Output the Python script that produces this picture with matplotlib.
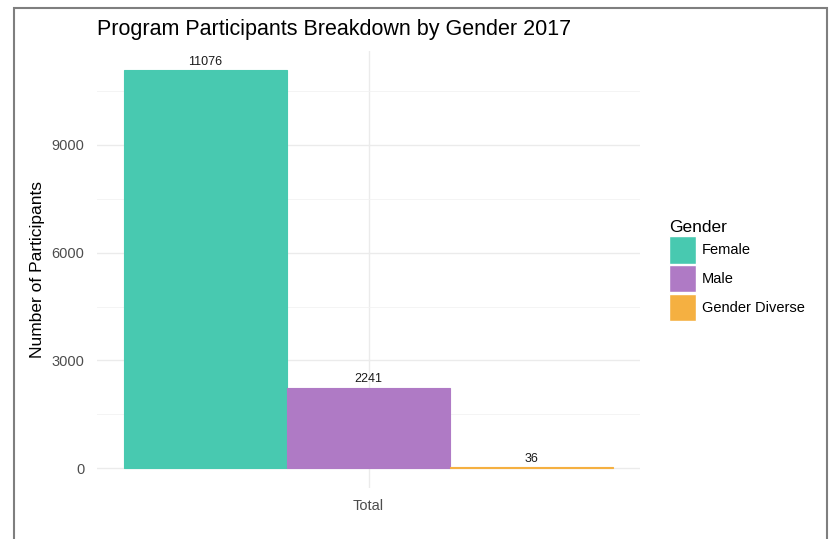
import matplotlib.pyplot as plt
from matplotlib.patches import Patch, Rectangle

genders = ["Female", "Male", "Gender Diverse"]
participants = [11076, 2241, 36]
colors = ["#48C9B0", "#AF7AC5", "#F5B041"]
category = "Total"

plt.rcParams["font.family"] = ["Liberation Sans", "DejaVu Sans"]

fig = plt.figure(figsize=(8.32, 5.39), dpi=100)
W, H = 832, 539
ax = fig.add_axes([97 / W, 1 - 488 / H, (640 - 97) / W, (488 - 50.5) / H])

# border round the whole image, like the screenshot
fig.patches.append(Rectangle((14 / W, -0.01), (827 - 14) / W, 1.01 - 8 / H,
                             transform=fig.transFigure, fill=False,
                             edgecolor="#7f7f7f", linewidth=1.5))

# dodged bars, width 0.9 split in three
w = 0.9 / len(genders)
for i, (g, v, c) in enumerate(zip(genders, participants, colors)):
    x = 1 - 0.45 + w / 2 + i * w
    ax.bar(x, v, width=w, color=c, edgecolor=c, linewidth=0.8, zorder=2)
    ax.text(x, v + 60, str(v), ha="center", va="bottom", fontsize=9, color="#1a1a1a")

ax.set_xlim(0.5, 1.5)
top = max(participants) * 1.05
ax.set_ylim(-max(participants) * 0.05, top)
ax.set_xticks([1])
ax.set_xticklabels([category])
ax.set_yticks([0, 3000, 6000, 9000])
ax.set_yticks([1500, 4500, 7500, 10500], minor=True)
ax.grid(True, which="major", color="#EBEBEB", linewidth=1.0, zorder=0)
ax.grid(True, which="minor", axis="y", color="#F2F2F2", linewidth=0.6, zorder=0)
ax.set_axisbelow(True)
for s in ax.spines.values():
    s.set_visible(False)
ax.tick_params(axis="both", which="both", length=0, labelsize=10.5, colors="#4D4D4D", pad=8)
ax.tick_params(axis="y", pad=9)

ax.set_ylabel("Number of Participants", fontsize=12.5, color="black", labelpad=5)
fig.text(97 / W, 1 - 30 / H, "Program Participants Breakdown by Gender 2017",
         fontsize=15.5, va="center", ha="left", color="black")

handles = [Patch(facecolor=c, edgecolor="white") for c in colors]
leg = fig.legend(handles, genders, title="Gender", loc="upper left",
                 bbox_to_anchor=(663 / W, 1 - 214 / H), frameon=False,
                 handlelength=1.85, handleheight=2.5, labelspacing=0.1,
                 handletextpad=0.4, fontsize=10.5, title_fontsize=12.5,
                 borderaxespad=0)
leg._legend_box.align = "left"

fig.savefig("out.png", dpi=100)
